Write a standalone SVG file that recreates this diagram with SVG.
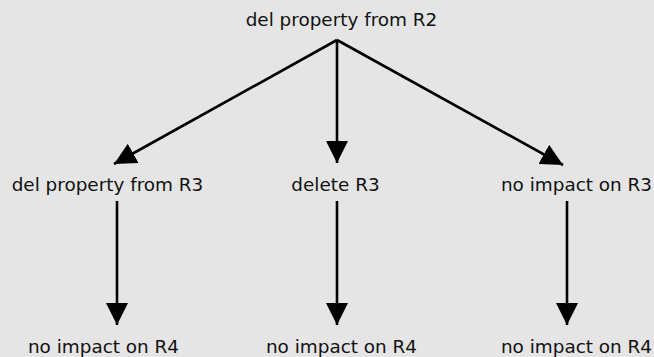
<svg xmlns="http://www.w3.org/2000/svg" width="654" height="357" viewBox="0 0 654 357">
  <style>
    .lbl { font-family: "DejaVu Sans", sans-serif; font-size: 18.4px; fill: #111; text-anchor: middle; }
    .edge { stroke: #000; stroke-width: 2.6; fill: none; marker-end: url(#arrow); }
  </style>
  <defs>
    <marker id="arrow" markerUnits="userSpaceOnUse" markerWidth="22" markerHeight="22" refX="20" refY="10" orient="auto" viewBox="0 0 20 20">
      <path d="M0,0 L20,10 L0,20 Z" fill="#000"/>
    </marker>
  </defs>
  <rect width="654" height="357" fill="#e5e5e5"/>

  <g id="connectors">
    <line class="edge" x1="337" y1="40" x2="114" y2="164"/>
    <line class="edge" x1="337" y1="40" x2="337" y2="163"/>
    <line class="edge" x1="337" y1="40" x2="563" y2="165"/>
    <line class="edge" x1="117" y1="201" x2="117" y2="325"/>
    <line class="edge" x1="337" y1="201" x2="337" y2="325"/>
    <line class="edge" x1="567" y1="201" x2="567" y2="325"/>
  </g>

  <g id="n-r2"><text class="lbl" x="341.5" y="26">del property from R2</text></g>
  <g id="n-del-prop-r3"><text class="lbl" x="107.5" y="191">del property from R3</text></g>
  <g id="n-delete-r3"><text class="lbl" x="335.5" y="191">delete R3</text></g>
  <g id="n-noimpact-r3"><text class="lbl" x="576.5" y="191">no impact on R3</text></g>
  <g id="n-r4-a"><text class="lbl" x="103.5" y="353">no impact on R4</text></g>
  <g id="n-r4-b"><text class="lbl" x="341.5" y="353">no impact on R4</text></g>
  <g id="n-r4-c"><text class="lbl" x="576.5" y="353">no impact on R4</text></g>
</svg>
